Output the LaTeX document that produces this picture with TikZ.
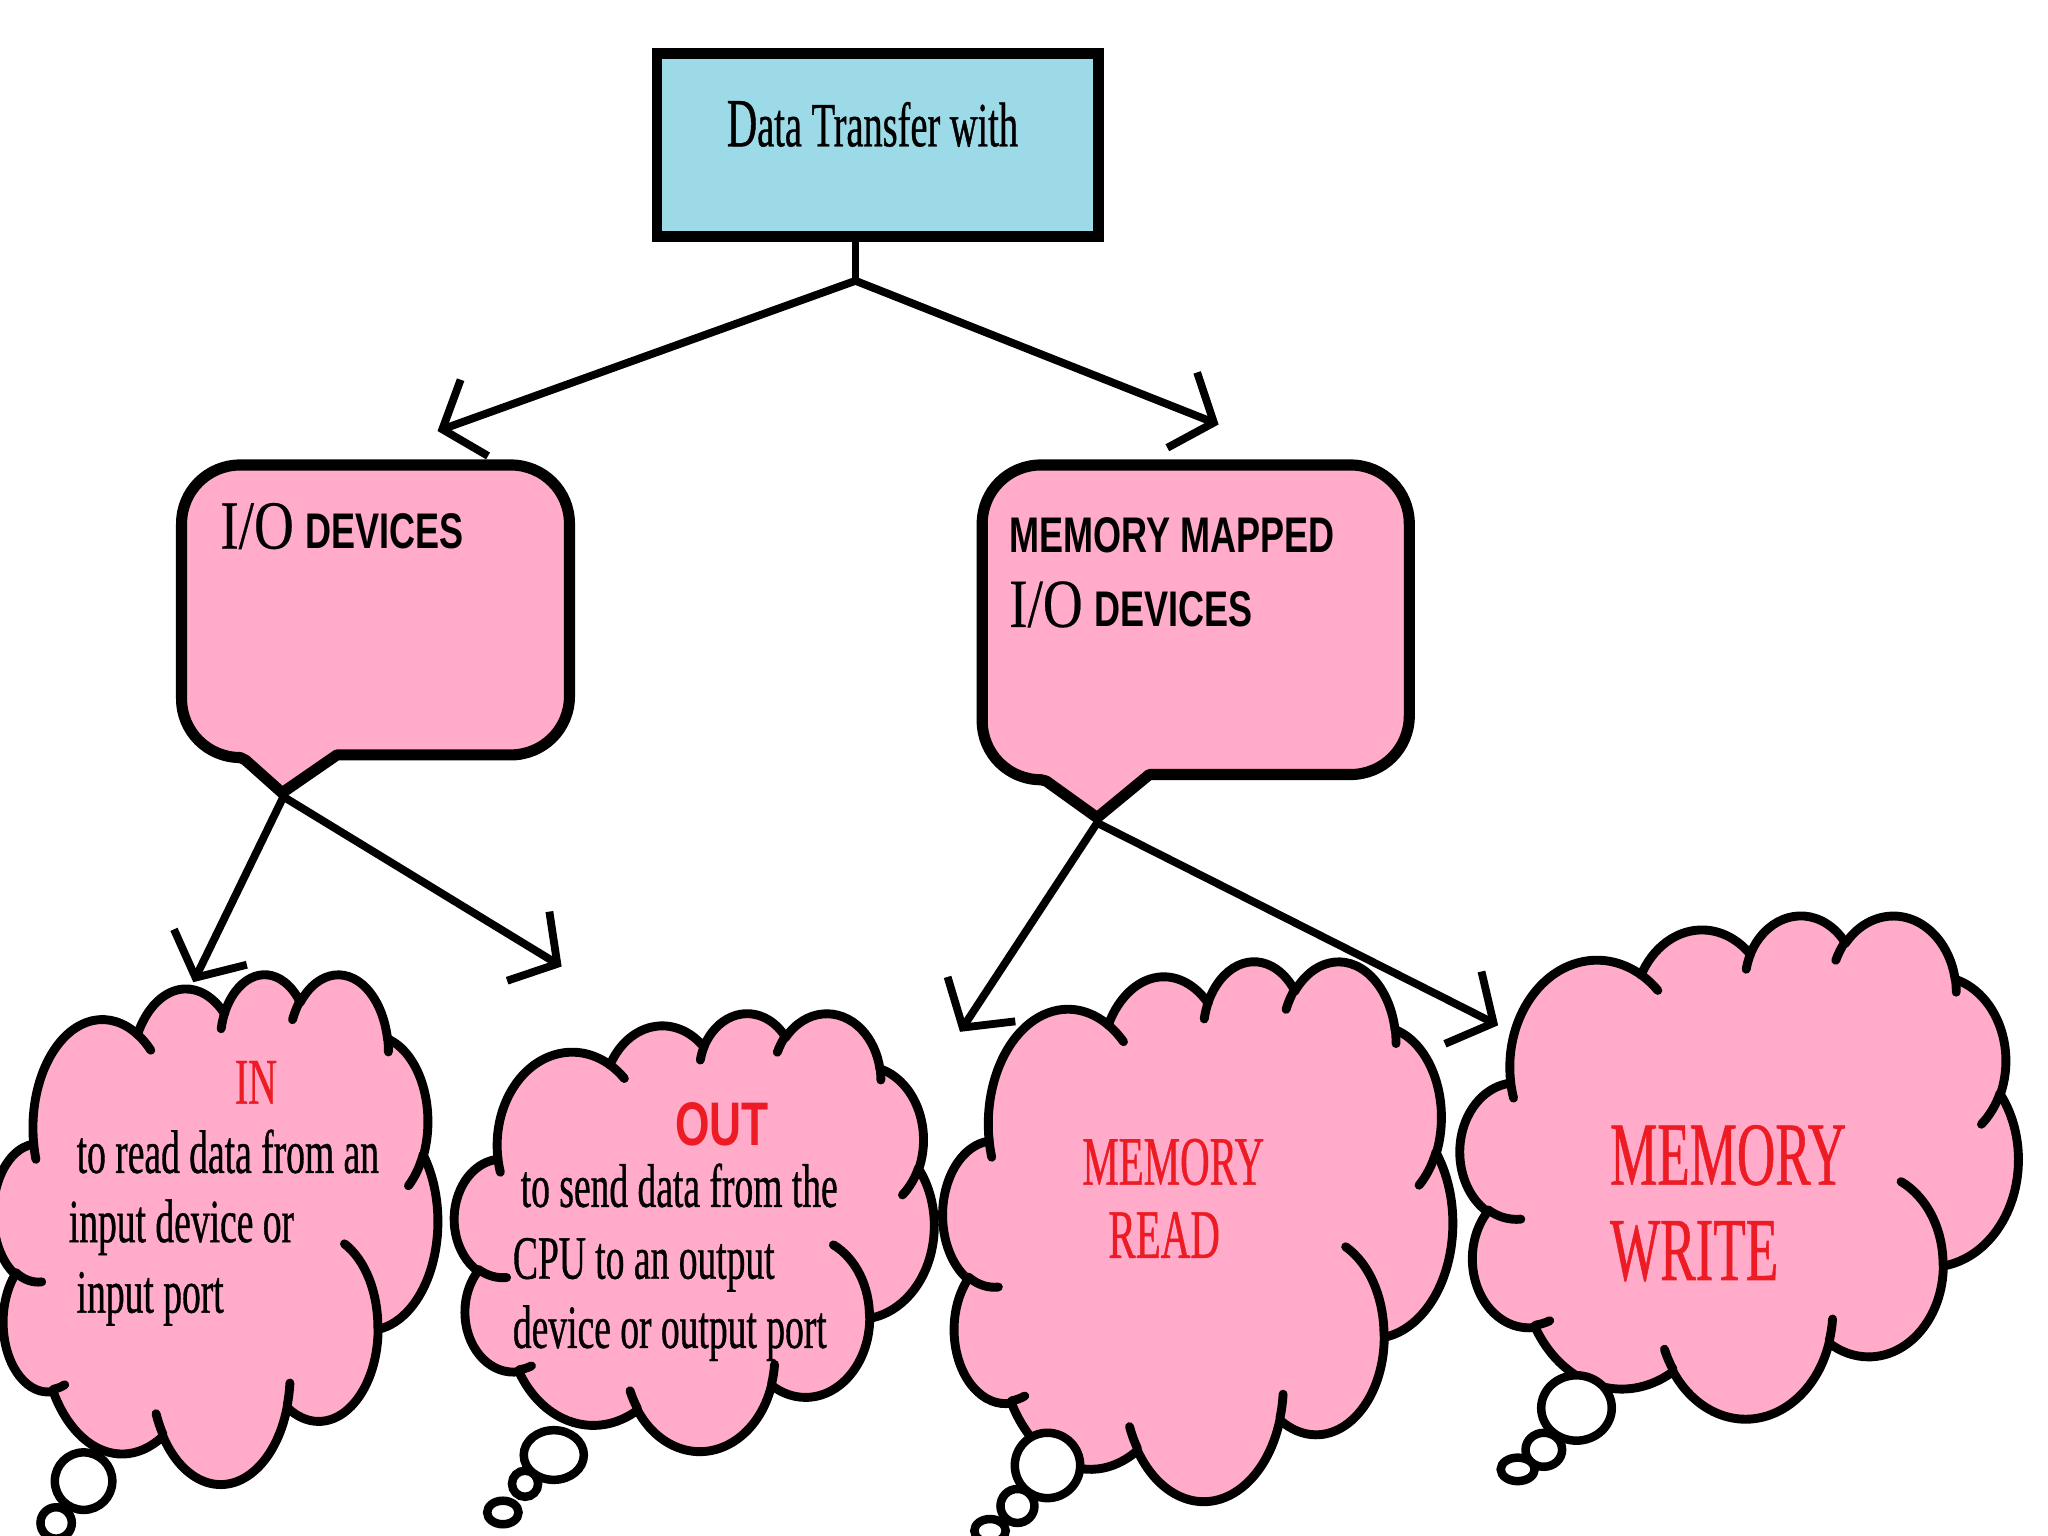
\documentclass[tikz,border=0pt]{standalone}
\usepackage{fontspec}
\setmainfont{Liberation Serif}
\newfontfamily\cserif[FakeStretch=0.61, FakeBold=0.6]{Liberation Serif}
\newfontfamily\rserif[FakeStretch=0.59, FakeBold=0.6]{Liberation Serif}
\newfontfamily\ioserif[FakeStretch=0.8, FakeBold=0.3]{Liberation Serif}
\newfontfamily\csans[FakeStretch=0.72]{Liberation Sans}
\usetikzlibrary{arrows.meta}
\definecolor{boxblue}{HTML}{9DDAE8}
\definecolor{pinkfill}{HTML}{FFABC9}
\definecolor{txtred}{HTML}{ED1C24}
\newcommand\oarc[4]{arc[start angle={vp(#3,#1,#2)}, delta angle={dp(#3,#4,#1,#2)}, x radius=#1, y radius=#2]}
\newcommand\mycloud[5]{%
 \begin{scope}[shift={(#2,#3)}, x=1cm, y=1cm, xscale=#4/4320, yscale=-#5/4320]
  \path[cloudbody] (3.9,14.37)
   \oarc{6.753}{9.19}{-190.4875}{123.7805}
   \oarc{5.333}{7.267}{-144.1024}{89.9452}
   \oarc{4.365}{5.945}{-145.8079}{99.723}
   \oarc{4.857}{6.595}{-130.9861}{117.2417}
   \oarc{5.333}{7.273}{-78.7089}{109.0269}
   \oarc{6.775}{9.22}{-46.2673}{130.269}
   \oarc{5.785}{7.867}{0.625}{114.0333}
   \oarc{6.752}{9.215}{22.4516}{115.1726}
   \oarc{7.72}{10.543}{66.2426}{75.711}
   \oarc{4.36}{5.918}{-274.9421}{146.7356}
   \oarc{4.345}{5.945}{-246.8285}{152.5189}
   -- cycle;
  \path[cloudline] (4.693,26.177) \oarc{4.345}{5.945}{86.742}{26.4295}
   (6.928,34.899) \oarc{4.36}{5.918}{73.6105}{11.4475}
   (16.478,39.09) \oarc{6.752}{9.215}{137.6242}{14.0811}
   (28.827,34.751) \oarc{6.752}{9.215}{6.4533}{15.9984}
   (34.129,22.954) \oarc{5.785}{7.867}{-70.2924}{70.9174}
   (41.798,15.354) \oarc{5.333}{7.273}{30.318}{27.7515}
   (38.324,5.426) \oarc{4.857}{6.595}{-13.7443}{14.8589}
   (29.078,3.952) \oarc{4.857}{6.595}{-149.1815}{18.1954}
   (22.141,4.72) \oarc{4.365}{5.945}{-163.4943}{17.6864}
   (14,5.192) \oarc{6.753}{9.19}{-66.707}{12.3194}
   (4.127,15.789) \oarc{6.753}{9.19}{157.6544}{11.8582};
  \coordinate (#1) at (21.6,21.6);
 \end{scope}}
\begin{document}
\begin{tikzpicture}[x=0.01cm, y=-0.01cm,
  declare function={vp(\va,\vw,\vh)=atan2(\vw*sin(\va),\vh*cos(\va));
    dp(\va,\vs,\vw,\vh)=vp(\va+\vs,\vw,\vh)-vp(\va,\vw,\vh)-360*round((vp(\va+\vs,\vw,\vh)-vp(\va,\vw,\vh)-\vs)/360);},
  cloudbody/.style={draw=black, fill=pinkfill, line width=0.068cm, line join=round},
  cloudline/.style={draw=black, line width=0.068cm, line cap=round},
  thought/.style={draw=black, fill=white, line width=0.065cm},
  bubblebox/.style={draw=black, fill=pinkfill, line width=0.085cm, line join=round},
  topbox/.style={draw=black, fill=boxblue, line width=0.08cm, minimum width=3.38cm, minimum height=1.40cm, inner sep=0pt},
  conn/.style={draw=black, line width=0.06cm, line cap=round, line join=round},
  arr/.style={conn, -{Straight Barb[length=0.26cm, width=0.62cm]}},
  txt/.style={inner sep=0pt, anchor=base west},
  ctxt/.style={inner sep=0pt, anchor=base},
  body/.style={font=\cserif\fontsize{13.4}{15}\selectfont},
  boxfont/.style={font=\csans\bfseries\fontsize{10.9}{13}\selectfont}
]
\useasboundingbox (0,0) rectangle (1568,1176);
\fill[white] (0,0) rectangle (1568,1176);

% top box
\node[topbox] (top) at (672,111) {};
\node[ctxt, font=\cserif\fontsize{13.7}{16}\selectfont] (toptext) at (668,112) {\fontsize{15}{16}\selectfont D\fontsize{13.7}{16}\selectfont ata Transfer with};

% speech boxes
\draw[bubblebox] (258,578) -- (391,578) .. controls (416,578) and (436,558) .. (436,533)
  -- (436,401) .. controls (436,376) and (416,356) .. (391,356)
  -- (184,356) .. controls (159,356) and (139,376) .. (139,401)
  -- (139,535) .. controls (139,560) and (159,580) .. (184,580)
  -- (188,582) -- (216,607) -- cycle;
\draw[bubblebox] (880,593) -- (1034,593) .. controls (1059,593) and (1079,573) .. (1079,548)
  -- (1079,401) .. controls (1079,376) and (1059,356) .. (1034,356)
  -- (797,356) .. controls (772,356) and (752,376) .. (752,401)
  -- (752,552) .. controls (752,577) and (772,597) .. (797,597)
  -- (801,598) -- (840,626) -- cycle;
\node[txt] (iotext) at (168,420) {{\ioserif\fontsize{15}{18}\selectfont I/O} {\csans\bfseries\fontsize{10.9}{13}\selectfont DEVICES}};
\node[txt, boxfont] (mmtext1) at (772,423) {MEMORY MAPPED};
\node[txt] (mmtext2) at (772,480) {{\ioserif\fontsize{15}{18}\selectfont I/O} {\csans\bfseries\fontsize{10.9}{13}\selectfont DEVICES}};

% clouds
\mycloud{cin}{-5}{745}{340}{390}
\mycloud{cout}{348}{775}{367}{335}
\mycloud{cread}{722}{735}{390}{413}
\mycloud{cwrite}{1118}{700}{427}{385}

% thought bubbles
\draw[thought] (64,1134) circle[radius=0.22cm];
\draw[thought] (43,1166) circle[radius=0.12cm];
\draw[thought] (424,1114) ellipse[x radius=0.23cm, y radius=0.19cm];
\draw[thought] (402,1136) circle[radius=0.10cm];
\draw[thought] (385,1158) ellipse[x radius=0.12cm, y radius=0.09cm];
\draw[thought] (802,1122) circle[radius=0.25cm];
\draw[thought] (779,1153) circle[radius=0.13cm];
\draw[thought] (758,1172) ellipse[x radius=0.12cm, y radius=0.09cm];
\draw[thought] (1207,1078) ellipse[x radius=0.27cm, y radius=0.25cm];
\draw[thought] (1182,1110) ellipse[x radius=0.14cm, y radius=0.13cm];
\draw[thought] (1162,1125) ellipse[x radius=0.13cm, y radius=0.09cm];

% cloud texts
\node[ctxt, text=txtred, font=\cserif\fontsize{14.2}{16}\selectfont] (intitle) at (196,845) {IN};
\node[txt, body] (in1) at (58,898) {to read data from an};
\node[txt, body] (in2) at (52,951) {input device or};
\node[txt, body] (in3) at (58,1005) {input port};

\node[ctxt, text=txtred, font=\csans\bfseries\fontsize{13.4}{16}\selectfont] (outtitle) at (553,877) {OUT};
\node[txt, body] (out1) at (398,924) {to send data from the};
\node[txt, body] (out2) at (392,979) {CPU to an output};
\node[txt, body] (out3) at (392,1032) {device or output port};

\node[txt, text=txtred, font=\rserif\fontsize{15.1}{17}\selectfont] (rd1) at (828,907) {MEMORY};
\node[txt, text=txtred, font=\rserif\fontsize{15.1}{17}\selectfont] (rd2) at (848,963) {READ};
\node[txt, text=txtred, font=\rserif\fontsize{19.6}{22}\selectfont] (wr1) at (1232,907) {MEMORY};
\node[txt, text=txtred, font=\rserif\fontsize{19.6}{22}\selectfont] (wr2) at (1232,980) {WRITE};

% connectors
\coordinate (split) at (655,215);
\coordinate (topL) at (335,330);
\coordinate (topR) at (933,325);
\coordinate (iotip) at (217,610);
\coordinate (mmtip) at (840,630);
\coordinate (ioA) at (148,752);
\coordinate (ioB) at (430,740);
\coordinate (mmA) at (735,790);
\coordinate (mmB) at (1147,785);
\draw[conn] (split |- top.south) -- (split);
\draw[arr] (split) -- (topL);
\draw[arr] (split) -- (topR);
\draw[arr] (iotip) -- (ioA);
\draw[arr] (iotip) -- (ioB);
\draw[arr] (mmtip) -- (mmA);
\draw[arr] (mmtip) -- (mmB);
\end{tikzpicture}
\end{document}
